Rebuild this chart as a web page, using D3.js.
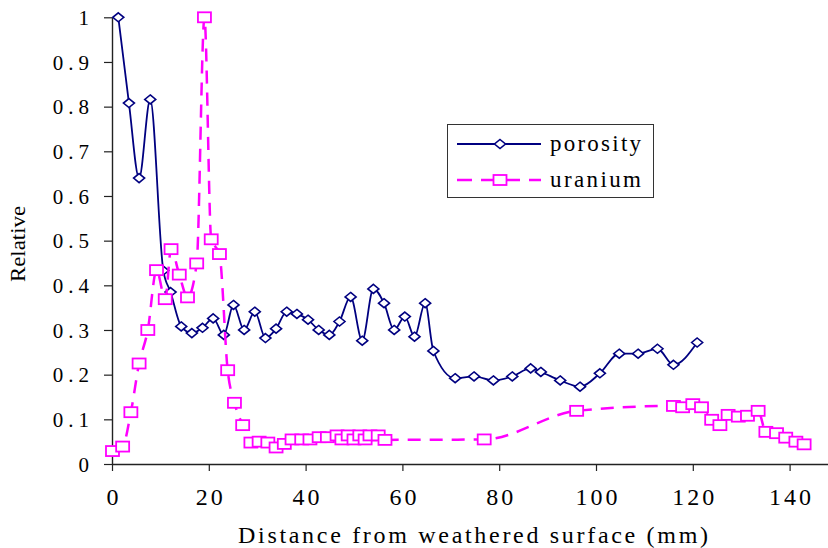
<!DOCTYPE html>
<html>
<head>
<meta charset="utf-8">
<script src="https://cdn.jsdelivr.net/npm/d3@7.9.0/dist/d3.min.js"></script>
<style>
  html, body { margin: 0; padding: 0; background: #fff; }
  svg { display: block; font-family: "Liberation Serif", "Times New Roman", serif; }
</style>
</head>
<body>
<svg id="chart" width="828" height="548"></svg>
<script>
// data
const porosityX = [1.3, 3.5, 5.6, 7.9, 10.6, 12.1, 14.3, 16.5, 18.7, 20.9, 23.1, 25.1, 27.3, 29.5, 31.7, 33.9, 36.1, 38.2, 40.5, 42.7, 44.9, 47.0, 49.3, 51.7, 54.0, 56.2, 58.3, 60.5, 62.5, 64.7, 66.4, 70.9, 74.8, 78.8, 82.7, 86.5, 88.6, 92.6, 96.7, 100.8, 104.8, 108.7, 112.7, 116.0, 120.9];
const porosityY = [1.0, 0.808, 0.64, 0.816, 0.433, 0.385, 0.308, 0.293, 0.305, 0.326, 0.289, 0.356, 0.300, 0.341, 0.282, 0.303, 0.341, 0.336, 0.323, 0.300, 0.289, 0.319, 0.374, 0.276, 0.392, 0.360, 0.300, 0.330, 0.285, 0.360, 0.253, 0.192, 0.196, 0.187, 0.196, 0.214, 0.206, 0.187, 0.173, 0.203, 0.247, 0.247, 0.258, 0.222, 0.272];

const uraniumX = [0.1, 2.2, 3.9, 5.6, 7.4, 9.2, 11.0, 12.2, 13.9, 15.6, 17.5, 19.1, 20.5, 22.2, 23.9, 25.3, 27.0, 28.7, 30.4, 32.2, 33.9, 35.6, 37.2, 39.2, 40.9, 42.8, 44.5, 46.5, 47.5, 48.8, 50.0, 51.2, 52.3, 53.3, 55.0, 56.4, 76.9, 96.0, 116.0, 117.9, 120.0, 121.8, 123.9, 125.6, 127.3, 129.4, 131.3, 133.5, 135.1, 137.3, 139.2, 141.3, 143.0];
const uraniumY = [0.029, 0.039, 0.116, 0.225, 0.300, 0.434, 0.369, 0.481, 0.424, 0.373, 0.449, 1.0, 0.503, 0.470, 0.210, 0.137, 0.087, 0.048, 0.050, 0.048, 0.037, 0.045, 0.055, 0.055, 0.055, 0.060, 0.060, 0.064, 0.055, 0.064, 0.055, 0.064, 0.055, 0.064, 0.064, 0.054, 0.055, 0.119, 0.130, 0.127, 0.134, 0.127, 0.099, 0.087, 0.110, 0.106, 0.108, 0.119, 0.072, 0.069, 0.059, 0.050, 0.044];

const xTicks = [0, 20, 40, 60, 80, 100, 120, 140];
const yTicks = [0, 0.1, 0.2, 0.3, 0.4, 0.5, 0.6, 0.7, 0.8, 0.9, 1];
const seriesNames = ['porosity', 'uranium'];
const seriesColors = ['#000080', '#FF00FF'];

const svg = d3.select('#chart');

// scales (axis runs past the right edge, like the cropped original)
const x = d3.scaleLinear().domain([0, 160]).range([112, 886.4]);
const y = d3.scaleLinear().domain([0, 1]).range([464, 17.3]);

// y axis
const yAxis = svg.append('g')
    .attr('transform', `translate(${x(0)},0)`)
    .call(d3.axisLeft(y).tickValues(yTicks).tickSize(8).tickSizeOuter(0)
        .tickFormat(d => d === 0 || d === 1 ? String(d) : d3.format('.1f')(d)));
yAxis.select('.domain').attr('stroke', '#222').attr('stroke-width', 1.4);
yAxis.selectAll('.tick line').attr('stroke', '#222').attr('stroke-width', 1.2);
yAxis.selectAll('.tick text')
    .attr('x', -18)
    .attr('dy', '0.34em')
    .attr('fill', '#000')
    .style('font-family', '"Liberation Serif", serif')
    .style('font-size', '21px')
    .style('letter-spacing', '5px');

// x axis
const xAxis = svg.append('g')
    .attr('transform', `translate(0,${y(0)})`)
    .call(d3.axisBottom(x).tickValues(xTicks).tickSize(7).tickSizeOuter(0).tickFormat(d3.format('d')));
xAxis.select('.domain').attr('stroke', '#222').attr('stroke-width', 1.4);
xAxis.selectAll('.tick line').attr('stroke', '#222').attr('stroke-width', 1.2);
xAxis.selectAll('.tick text')
    .attr('y', 41)
    .attr('dy', 0)
    .attr('dx', '1.5px')
    .attr('fill', '#000')
    .style('font-family', '"Liberation Serif", serif')
    .style('font-size', '24px')
    .style('letter-spacing', '3px');

// axis titles
svg.append('text')
    .attr('x', 238)
    .attr('y', 543)
    .attr('textLength', 470)
    .attr('lengthAdjust', 'spacing')
    .style('font-size', '24px')
    .text('Distance from weathered surface (mm)');

svg.append('text')
    .attr('transform', 'translate(25,282) rotate(-90)')
    .attr('textLength', 76)
    .attr('lengthAdjust', 'spacingAndGlyphs')
    .style('font-size', '20px')
    .text('Relative');

// series
const line = d3.line()
    .x(d => x(d[0]))
    .y(d => y(d[1]))
    .curve(d3.curveMonotoneX);

const porosity = porosityX.map((v, i) => [v, porosityY[i]]);
const uranium = uraniumX.map((v, i) => [v, uraniumY[i]]);

svg.append('path')
    .datum(porosity)
    .attr('d', line)
    .attr('fill', 'none')
    .attr('stroke', seriesColors[0])
    .attr('stroke-width', 1.8);

const diamond = 'M0,-4.5L5.5,0L0,4.5L-5.5,0Z';
svg.append('g').selectAll('path')
    .data(porosity)
    .join('path')
    .attr('d', diamond)
    .attr('transform', d => `translate(${x(d[0])},${y(d[1])})`)
    .attr('fill', '#fff')
    .attr('stroke', seriesColors[0])
    .attr('stroke-width', 1.6);

svg.append('path')
    .datum(uranium)
    .attr('d', line)
    .attr('fill', 'none')
    .attr('stroke', seriesColors[1])
    .attr('stroke-width', 2.5)
    .attr('stroke-dasharray', '13,9');

svg.append('g').selectAll('rect')
    .data(uranium)
    .join('rect')
    .attr('x', d => x(d[0]) - 6.5)
    .attr('y', d => y(d[1]) - 5)
    .attr('width', 13)
    .attr('height', 10)
    .attr('fill', '#fff')
    .attr('stroke', seriesColors[1])
    .attr('stroke-width', 1.8);

// legend
const legend = svg.append('g');
legend.append('rect')
    .attr('x', 447.5).attr('y', 124.5)
    .attr('width', 206).attr('height', 73)
    .attr('fill', '#fff')
    .attr('stroke', '#333')
    .attr('stroke-width', 1);

seriesNames.forEach((name, i) => {
    const ly = 144 + i * 36;
    legend.append('line')
        .attr('x1', 457).attr('x2', 541)
        .attr('y1', ly).attr('y2', ly)
        .attr('stroke', seriesColors[i])
        .attr('stroke-width', i === 0 ? 1.8 : 2.5)
        .attr('stroke-dasharray', i === 0 ? null : '15,9');
    if (i === 0) {
        legend.append('path')
            .attr('d', diamond)
            .attr('transform', `translate(500,${ly})`)
            .attr('fill', '#fff')
            .attr('stroke', seriesColors[i])
            .attr('stroke-width', 1.6);
    } else {
        legend.append('rect')
            .attr('x', 493.5).attr('y', ly - 5)
            .attr('width', 13).attr('height', 10)
            .attr('fill', '#fff')
            .attr('stroke', seriesColors[i])
            .attr('stroke-width', 1.8);
    }
    legend.append('text')
        .attr('x', 550)
        .attr('y', ly + 7)
        .attr('textLength', 91)
        .attr('lengthAdjust', 'spacing')
        .style('font-size', '23px')
        .text(name);
});
</script>
</body>
</html>
